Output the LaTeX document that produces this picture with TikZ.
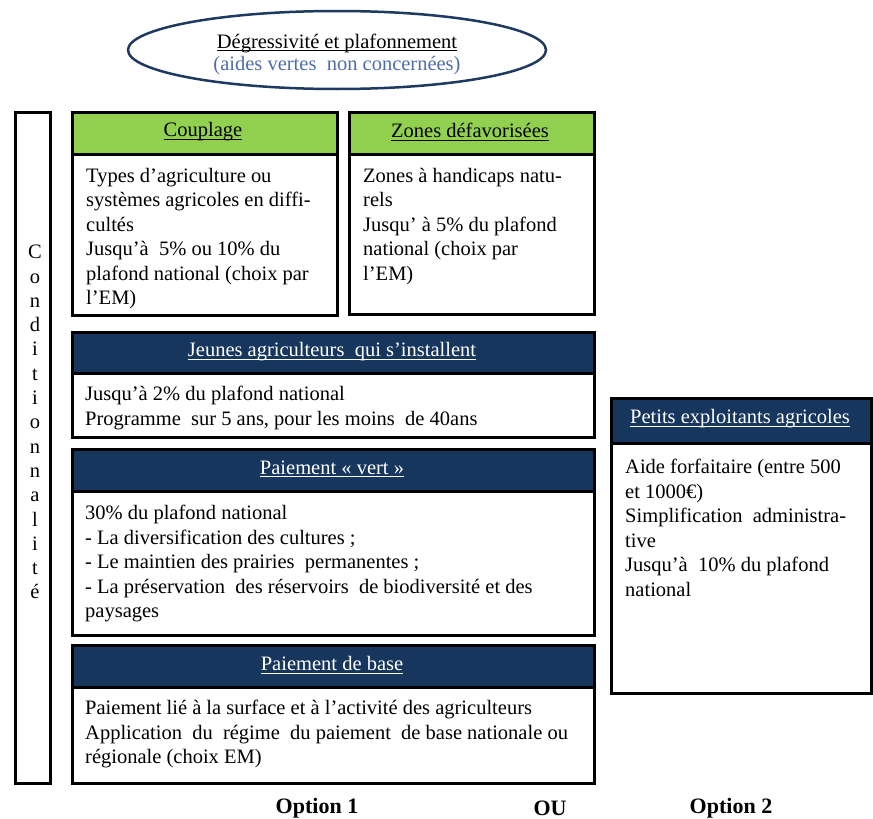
\documentclass[tikz,border=0pt]{standalone}
\usepackage{fontspec}
\setmainfont{Liberation Serif}
\usetikzlibrary{shapes.geometric}
\newcommand\myul[1]{\setbox0\hbox{#1}\rlap{\rule[-3pt]{\wd0}{1pt}}\box0}
\definecolor{navy}{HTML}{17365D}
\definecolor{grn}{HTML}{92D050}
\definecolor{eblue}{HTML}{4F6EA8}
\definecolor{ering}{HTML}{1F3A60}
\begin{document}
\begin{tikzpicture}[x=1pt,y=-1pt,
  every node/.style={font=\fontsize{20.5}{24.5}\selectfont},
  frame/.style={draw=black, line width=3pt, anchor=north west, inner sep=0pt},
  ghdr/.style={frame, fill=grn, text=black},
  nhdr/.style={frame, fill=navy, text=white},
  bodybox/.style={frame, fill=white},
  bodytext/.style={anchor=north west, align=left, inner sep=0pt},
  lbl/.style={font=\fontsize{22}{24}\selectfont\bfseries, inner sep=0pt, anchor=base},
]
\useasboundingbox (0,0) rectangle (873,819);

% ellipse
\node[draw=ering, line width=2.5pt, ellipse, minimum width=418, minimum height=78, inner sep=0pt] (ell) at (337,50) {};
\node[inner sep=0pt] (t1) at (337,43) {\myul{Dégressivité et plafonnement}};
\node[inner sep=0pt, text=eblue] (t2) at (337,66) {(aides vertes\ \ non concernées)};

% Conditionnalite
\node[frame, minimum width=35, minimum height=671] (cond) at (14,111) {};
\node[anchor=north, align=center, inner sep=0pt, font=\fontsize{20.5}{24.3}\selectfont] (condtxt) at (35,245)
  {C\\o\\n\\d\\i\\t\\i\\o\\n\\n\\a\\l\\i\\t\\é};

% Couplage
\node[ghdr, minimum width=265, minimum height=42] (couph) at (71,111) {};
\node[inner sep=0pt] (coupt) at (203,132) {\myul{Couplage}};
\node[bodybox, minimum width=265, minimum height=161] (coupb) at (71,153) {};
\node[bodytext] (coupx) at (86,168) {Types d’agriculture ou\\systèmes agricoles en diffi-\\cultés\\Jusqu’à\ \ 5\% ou 10\% du\\plafond national (choix par\\l’EM)};

% Zones defavorisees
\node[ghdr, minimum width=245, minimum height=42] (zoneh) at (348,111) {};
\node[inner sep=0pt] (zonet) at (470,132) {\myul{Zones défavorisées}};
\node[bodybox, minimum width=245, minimum height=160] (zoneb) at (348,153) {};
\node[bodytext] (zonex) at (363,168) {Zones à handicaps natu-\\rels\\Jusqu’ à 5\% du plafond\\national (choix par\\l’EM)};

% Jeunes agriculteurs
\node[nhdr, minimum width=522, minimum height=41] (jeuh) at (71,331) {};
\node[inner sep=0pt, text=white] (jeut) at (332,352) {\myul{Jeunes agriculteurs\ \ qui s’installent}};
\node[bodybox, minimum width=522, minimum height=64] (jeub) at (71,372) {};
\node[bodytext] (jeux) at (85,386) {Jusqu’à 2\% du plafond national\\Programme\ \ sur 5 ans, pour les moins\ \ de 40ans};

% Paiement vert
\node[nhdr, minimum width=522, minimum height=42] (verh) at (71,448) {};
\node[inner sep=0pt, text=white] (vert) at (332,469) {\myul{Paiement « vert »}};
\node[bodybox, minimum width=522, minimum height=144] (verb) at (71,490) {};
\node[bodytext] (verx) at (85,505) {30\% du plafond national\\- La diversification des cultures ;\\- Le maintien des prairies\ \ permanentes ;\\- La préservation\ \ des réservoirs\ \ de biodiversité et des\\paysages};

% Paiement de base
\node[nhdr, minimum width=522, minimum height=42] (bash) at (71,644) {};
\node[inner sep=0pt, text=white] (bast) at (332,665) {\myul{Paiement de base}};
\node[bodybox, minimum width=522, minimum height=96] (basb) at (71,686) {};
\node[bodytext] (basx) at (85,700) {Paiement lié à la surface et à l’activité des agriculteurs\\Application\ \ du\ \ régime\ \ du paiement\ \ de base nationale ou\\régionale (choix EM)};

% Petits exploitants
\node[nhdr, minimum width=260, minimum height=45] (peth) at (610,397) {};
\node[inner sep=0pt, text=white] (pett) at (740,419) {\myul{Petits exploitants agricoles}};
\node[bodybox, minimum width=260, minimum height=250] (petb) at (610,442) {};
\node[bodytext] (petx) at (625,459) {Aide forfaitaire (entre 500\\et 1000€)\\Simplification\ \ administra-\\tive\\Jusqu’à\ \ 10\% du plafond\\national};

% bottom labels
\node[lbl] (opt1) at (317,813) {Option 1};
\node[lbl] (ou) at (550,815) {OU};
\node[lbl] (opt2) at (731,813) {Option 2};
\end{tikzpicture}
\end{document}
